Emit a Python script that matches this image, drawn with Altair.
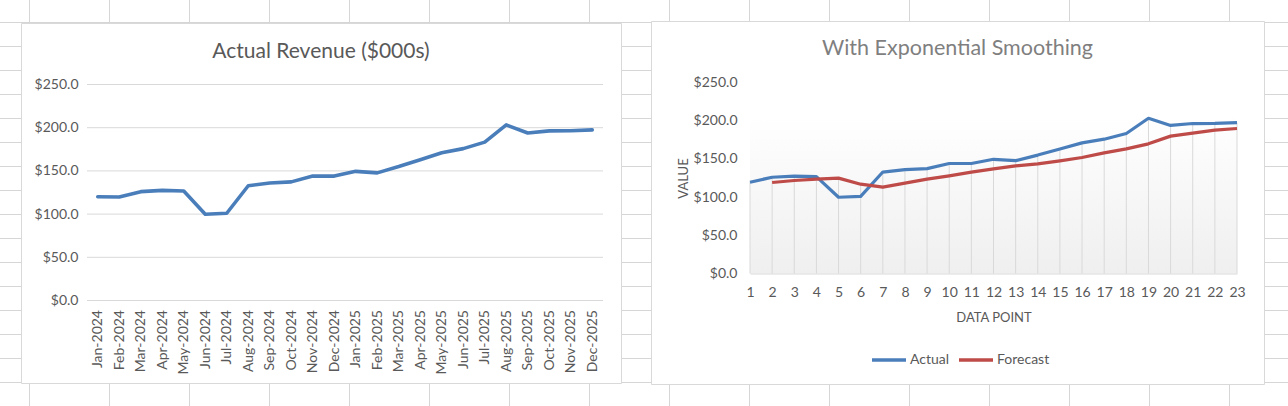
import altair as alt
import pandas as pd

# ---------------- data ----------------
months = ["Jan-2024", "Feb-2024", "Mar-2024", "Apr-2024", "May-2024", "Jun-2024",
          "Jul-2024", "Aug-2024", "Sep-2024", "Oct-2024", "Nov-2024", "Dec-2024",
          "Jan-2025", "Feb-2025", "Mar-2025", "Apr-2025", "May-2025", "Jun-2025",
          "Jul-2025", "Aug-2025", "Sep-2025", "Oct-2025", "Nov-2025", "Dec-2025"]
revenue = [120.0, 119.8, 126.0, 127.5, 126.8, 99.8, 101.0, 132.8, 136.0, 137.3, 144.0, 144.0,
           149.5, 147.7, 155.0, 163.0, 171.0, 175.8, 183.3, 203.2, 193.8, 196.3, 196.5, 197.5]

points = list(range(1, 24))
actual = [119.5, 126.0, 127.5, 126.8, 99.8, 101.0, 132.8, 136.0, 137.3, 144.0, 144.0, 149.5,
          147.7, 155.0, 163.0, 171.0, 175.8, 183.3, 203.2, 193.8, 196.3, 196.5, 197.5]
forecast = [None, 119.1, 121.7, 123.5, 124.8, 116.9, 113.0, 118.2, 123.5, 127.8, 132.6, 137.0,
            140.9, 143.5, 147.5, 151.8, 157.9, 163.2, 169.7, 179.8, 183.7, 187.6, 189.8]

y_ticks = [0, 50, 100, 150, 200, 250]
series_names = ["Actual", "Forecast"]
left_title = "Actual Revenue ($000s)"
right_title = "With Exponential Smoothing"

# spreadsheet background grid (column / row line indices)
sheet_cols = list(range(17))
sheet_rows = list(range(17))

# ---------------- style ----------------
W, H = 1288, 406
FONT = "Lato"
TEXT = "#595959"
GRID = "#d9d9d9"
SHEET = "#d6d6d6"
BLUE = "#4A7EBB"
RED = "#BE4B48"

left_df = pd.DataFrame({"month": months, "revenue": revenue})
rows = []
for p, a, f in zip(points, actual, forecast):
    rows.append({"point": p, "series": "Actual", "value": a})
    if f is not None:
        rows.append({"point": p, "series": "Forecast", "value": f})
right_df = pd.DataFrame(rows)
drop_df = pd.DataFrame({"point": points,
                        "top": [max(a, f) if f is not None else a for a, f in zip(actual, forecast)]})

one = pd.DataFrame({"k": [0]})

# left panel scales
LX = alt.Scale(range=[87, 603])
LY = alt.Scale(domain=[0, 250], range=[300.5, 84.5], nice=False, zero=False)
# right panel scales
RX = alt.Scale(domain=[1, 23], range=[750, 1237], nice=False, zero=False)
RY = alt.Scale(domain=[0, 250], range=[273.5, 82.5], nice=False, zero=False)

# ---------------- layers ----------------
vlines = alt.Chart(pd.DataFrame({"c": sheet_cols})).mark_rule(color=SHEET, strokeWidth=1).encode(
    x=alt.X("c:Q", scale=alt.Scale(domain=[0, 16], range=[29.5, 29.5 + 80 * 16], nice=False, zero=False), axis=None),
    y=alt.value(0), y2=alt.value(H))
hlines = alt.Chart(pd.DataFrame({"r": sheet_rows})).mark_rule(color=SHEET, strokeWidth=1).encode(
    y=alt.Y("r:Q", scale=alt.Scale(domain=[0, 16], range=[22.5, 22.5 + 24 * 16], nice=False, zero=False), axis=None),
    x=alt.value(0), x2=alt.value(W))

box_left = alt.Chart(one).mark_rect(fill="white", stroke=GRID, strokeWidth=1).encode(
    x=alt.value(21.5), x2=alt.value(621.5), y=alt.value(23.5), y2=alt.value(383.5))
box_right = alt.Chart(one).mark_rect(fill="white", stroke=GRID, strokeWidth=1).encode(
    x=alt.value(651.5), x2=alt.value(1264.5), y=alt.value(21.5), y2=alt.value(384.5))

left_grid = alt.Chart(pd.DataFrame({"v": y_ticks})).mark_rule(color=GRID, strokeWidth=1).encode(
    y=alt.Y("v:Q", scale=LY, axis=None), x=alt.value(87), x2=alt.value(603))

axis_common = dict(domain=False, ticks=False, grid=False, labelFont=FONT, labelColor=TEXT,
                   labelFontSize=14, zindex=1, labelOverlap=False)

left_line = alt.Chart(left_df).mark_line(color=BLUE, strokeWidth=3.6, strokeJoin="round", strokeCap="round").encode(
    x=alt.X("month:N", sort=months, scale=LX,
            axis=alt.Axis(orient="bottom", offset=-(H - 300.5), labelAngle=-90, labelPadding=9,
                          title=None, **axis_common)),
    y=alt.Y("revenue:Q", scale=LY,
            axis=alt.Axis(orient="left", offset=-87, values=y_ticks, format="$,.1f", labelPadding=9,
                          title=None, labelFlush=False, **axis_common)))

grad = alt.Chart(pd.DataFrame({"x0": [1], "x1": [23], "y0": [0], "y1": [207]})).mark_rect(
    fill={"gradient": "linear", "x1": 0, "x2": 0, "y1": 0, "y2": 1,
          "stops": [{"offset": 0, "color": "#ffffff"}, {"offset": 1, "color": "#efefef"}]}).encode(
    x=alt.X("x0:Q", scale=RX, axis=None), x2="x1:Q",
    y=alt.Y("y0:Q", scale=RY, axis=None), y2="y1:Q")

drops = alt.Chart(drop_df).mark_rule(color=GRID, strokeWidth=1).encode(
    x=alt.X("point:Q", scale=RX, axis=None),
    y=alt.Y("top:Q", scale=RY, axis=None), y2=alt.datum(0))

right_lines = alt.Chart(right_df).mark_line(strokeWidth=3.2, strokeJoin="round", strokeCap="butt").encode(
    x=alt.X("point:Q", scale=RX,
            axis=alt.Axis(orient="bottom", offset=-(H - 273.5), values=points, format="d", labelPadding=12,
                          title="DATA POINT", titleFont=FONT, titleFontSize=13, titleFontWeight="normal",
                          titleColor=TEXT, titleBaseline="middle", titleY=44,
                          domain=True, domainColor=GRID, domainWidth=1, ticks=False, grid=False,
                          labelFont=FONT, labelColor=TEXT, labelFontSize=14, labelOverlap=False,
                          labelBound=False, labelFlush=False, zindex=1)),
    y=alt.Y("value:Q", scale=RY,
            axis=alt.Axis(orient="left", offset=-750, values=y_ticks, format="$,.1f", labelPadding=13,
                          title="VALUE", titleFont=FONT, titleFontSize=13, titleFontWeight="normal",
                          titleColor=TEXT, titleX=-67, titleY=178, titleBaseline="middle",
                          labelFlush=False, **axis_common)),
    color=alt.Color("series:N", scale=alt.Scale(domain=series_names, range=[BLUE, RED]),
                    legend=alt.Legend(orient="none", legendX=870, legendY=341, direction="horizontal",
                                      title=None, symbolType="stroke", symbolSize=1156,
                                      symbolStrokeWidth=3.5, labelFont=FONT, labelFontSize=14,
                                      labelColor=TEXT, labelOffset=2, columnPadding=2, padding=0)))

title_l = alt.Chart(one).mark_text(text=left_title, font=FONT, fontSize=21, color=TEXT,
                                   align="center", baseline="alphabetic").encode(
    x=alt.value(321), y=alt.value(58))
title_r = alt.Chart(one).mark_text(text=right_title, font=FONT, fontSize=21.5, color="#7f7f7f",
                                   align="center", baseline="alphabetic").encode(
    x=alt.value(957.5), y=alt.value(55))

chart = alt.layer(vlines, hlines, box_left, box_right, left_grid, left_line,
                  grad, drops, right_lines, title_l, title_r).resolve_scale(
    x="independent", y="independent", color="independent"
).properties(
    width=W, height=H, padding=0, autosize=alt.AutoSizeParams(type="none")
).configure_view(stroke=None)

chart.save("out.html", embed_options={"renderer": "svg", "actions": False})
